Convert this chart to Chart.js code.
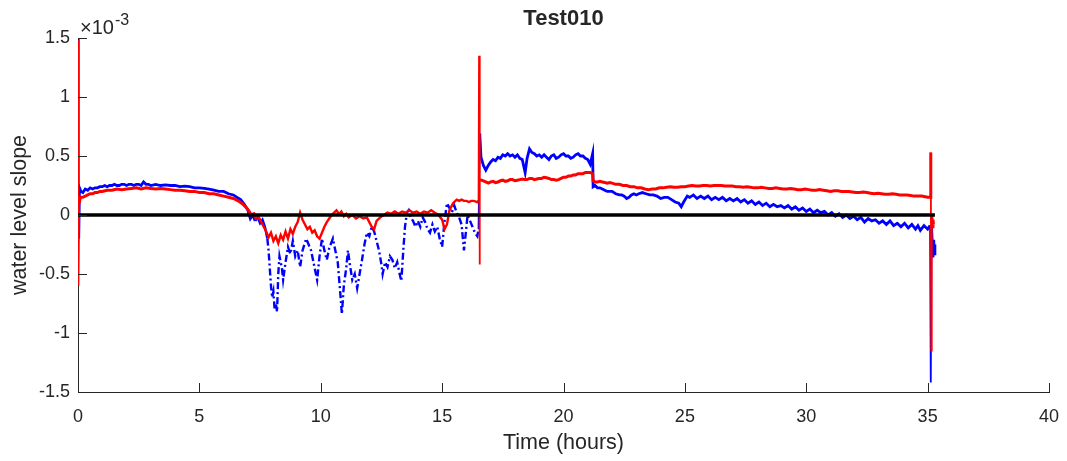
<!DOCTYPE html>
<html>
<head>
<meta charset="utf-8">
<title>Test010</title>
<script src="https://cdn.jsdelivr.net/npm/chart.js@4/dist/chart.umd.min.js"></script>
<style>
  html, body { margin: 0; padding: 0; background: #fff; }
  #wrap { width: 1067px; height: 461px; position: relative; }
</style>
</head>
<body>
<div id="wrap"><canvas id="grafico"></canvas></div>
<script>
// slope values are in units of 10^-3, time in hours
const expoente = -3;
const xTicks = [0, 5, 10, 15, 20, 25, 30, 35, 40];
const yTicks = [-1.5, -1, -0.5, 0, 0.5, 1, 1.5];

// zero reference line
const linhaZero = [[0, 0], [35.3, 0]];

// sensor 1 (blue)
const serieAzul = [
  [0, 1.5], [0.03, -0.2], [0.06, 0.23], [0.12, 0.2], [0.2, 0.19], [0.3, 0.22], [0.4, 0.21], [0.5, 0.23],
  [0.6, 0.22], [0.7, 0.23], [0.8, 0.23], [0.9, 0.24], [1.0, 0.24], [1.1, 0.25], [1.2, 0.24], [1.3, 0.25],
  [1.4, 0.25], [1.5, 0.26], [1.6, 0.25], [1.7, 0.25], [1.8, 0.26], [1.9, 0.26], [2.0, 0.25], [2.1, 0.26],
  [2.2, 0.26], [2.3, 0.25], [2.4, 0.26], [2.5, 0.26], [2.6, 0.25], [2.7, 0.28], [2.8, 0.26], [2.9, 0.26],
  [3.0, 0.25], [3.2, 0.26], [3.4, 0.25], [3.6, 0.255], [3.8, 0.25], [4.0, 0.25], [4.2, 0.24], [4.4, 0.245],
  [4.6, 0.24], [4.8, 0.23], [5.0, 0.23], [5.2, 0.225], [5.4, 0.22], [5.6, 0.21], [5.8, 0.2], [6.0, 0.2],
  [6.2, 0.18], [6.4, 0.17], [6.55, 0.15], [6.7, 0.13], [6.85, 0.09], [7.0, 0.04], [7.1, -0.03], [7.2, 0.0],
  [7.3, -0.05], [7.4, -0.02], [7.5, -0.07], [7.6, -0.04], [7.7, -0.1], [7.8, -0.2], [7.85, -0.3], [7.9, -0.45],
  [7.95, -0.6], [8.0, -0.7], [8.05, -0.65], [8.1, -0.8], [8.15, -0.75], [8.2, -0.82], [8.25, -0.5], [8.3, -0.35],
  [8.4, -0.45], [8.45, -0.55], [8.55, -0.4], [8.65, -0.27], [8.75, -0.33], [8.85, -0.22], [8.95, -0.35], [9.05, -0.3],
  [9.15, -0.44], [9.25, -0.3], [9.4, -0.2], [9.5, -0.25], [9.6, -0.3], [9.7, -0.4], [9.85, -0.55], [9.95, -0.35],
  [10.05, -0.2], [10.15, -0.3], [10.25, -0.38], [10.35, -0.28], [10.5, -0.2], [10.6, -0.3], [10.7, -0.4], [10.8, -0.65],
  [10.87, -0.84], [10.95, -0.6], [11.05, -0.45], [11.12, -0.3], [11.2, -0.42], [11.3, -0.55], [11.4, -0.5], [11.5, -0.62],
  [11.6, -0.5], [11.7, -0.38], [11.8, -0.25], [11.9, -0.15], [12.0, -0.18], [12.1, -0.1], [12.2, -0.14], [12.3, -0.22],
  [12.4, -0.3], [12.5, -0.42], [12.55, -0.5], [12.65, -0.4], [12.75, -0.44], [12.85, -0.35], [12.95, -0.38], [13.05, -0.45],
  [13.15, -0.4], [13.25, -0.5], [13.32, -0.56], [13.4, -0.3], [13.47, -0.1], [13.55, 0.02], [13.62, 0.04], [13.7, -0.02],
  [13.8, -0.05], [13.9, -0.1], [14.0, -0.05], [14.1, -0.1], [14.2, -0.02], [14.3, -0.06], [14.4, -0.12], [14.5, -0.15],
  [14.6, -0.08], [14.7, -0.14], [14.8, -0.1], [14.9, -0.2], [15.0, -0.27], [15.1, -0.05], [15.2, 0.1], [15.3, 0.06],
  [15.4, 0.02], [15.5, 0.08], [15.6, 0.02], [15.7, -0.02], [15.8, -0.08], [15.9, -0.3], [15.95, -0.2], [16.05, 0.0],
  [16.15, -0.05], [16.25, -0.1], [16.35, -0.15], [16.45, -0.18], [16.5, -0.12],
  [16.55, 0.69], [16.6, 0.49], [16.7, 0.42], [16.8, 0.38], [16.9, 0.42], [17.0, 0.45], [17.1, 0.47], [17.2, 0.46],
  [17.3, 0.49], [17.4, 0.48], [17.5, 0.51], [17.6, 0.5], [17.7, 0.52], [17.8, 0.5], [17.9, 0.51], [18.0, 0.49],
  [18.1, 0.51], [18.2, 0.48], [18.3, 0.47], [18.42, 0.36], [18.5, 0.48], [18.6, 0.56], [18.7, 0.53], [18.8, 0.52],
  [18.9, 0.5], [19.0, 0.51], [19.1, 0.49], [19.2, 0.51], [19.3, 0.49], [19.4, 0.47], [19.5, 0.5], [19.6, 0.51],
  [19.7, 0.48], [19.8, 0.49], [19.9, 0.51], [20.0, 0.52], [20.1, 0.5], [20.2, 0.5], [20.3, 0.48], [20.4, 0.49],
  [20.5, 0.51], [20.6, 0.52], [20.7, 0.5], [20.8, 0.5], [20.9, 0.48], [21.0, 0.47], [21.1, 0.43], [21.2, 0.52],
  [21.22, 0.24], [21.3, 0.25], [21.4, 0.23], [21.5, 0.23], [21.6, 0.22], [21.7, 0.21], [21.8, 0.2], [21.9, 0.2],
  [22.0, 0.2], [22.15, 0.18], [22.3, 0.17], [22.4, 0.17], [22.5, 0.16], [22.6, 0.14], [22.7, 0.15], [22.8, 0.17],
  [22.9, 0.18], [23.0, 0.17], [23.1, 0.18], [23.25, 0.19], [23.4, 0.18], [23.55, 0.17], [23.7, 0.17], [23.85, 0.16],
  [24.0, 0.14], [24.15, 0.15], [24.3, 0.15], [24.45, 0.13], [24.6, 0.11], [24.75, 0.1], [24.85, 0.07], [24.95, 0.11],
  [25.1, 0.16], [25.2, 0.15], [25.35, 0.17], [25.5, 0.14], [25.65, 0.16], [25.8, 0.14], [25.95, 0.16], [26.1, 0.13],
  [26.25, 0.15], [26.4, 0.13], [26.55, 0.15], [26.7, 0.12], [26.85, 0.14], [27.0, 0.12], [27.15, 0.14], [27.3, 0.11],
  [27.45, 0.13], [27.6, 0.1], [27.75, 0.12], [27.9, 0.09], [28.05, 0.11], [28.2, 0.08], [28.35, 0.1], [28.5, 0.07],
  [28.65, 0.09], [28.8, 0.07], [28.95, 0.08], [29.1, 0.06], [29.25, 0.08], [29.4, 0.05], [29.55, 0.07], [29.7, 0.04],
  [29.85, 0.06], [30.0, 0.03], [30.15, 0.05], [30.3, 0.02], [30.45, 0.04], [30.6, 0.02], [30.75, 0.03], [30.9, 0.0],
  [31.05, 0.02], [31.2, -0.01], [31.35, 0.01], [31.5, -0.02], [31.65, 0.0], [31.8, -0.03], [31.95, -0.01], [32.1, -0.04],
  [32.25, -0.02], [32.4, -0.06], [32.55, -0.03], [32.7, -0.05], [32.85, -0.04], [33.0, -0.07], [33.15, -0.05], [33.3, -0.08],
  [33.45, -0.05], [33.6, -0.09], [33.75, -0.07], [33.9, -0.1], [34.05, -0.07], [34.2, -0.11], [34.35, -0.08], [34.5, -0.12],
  [34.6, -0.09], [34.7, -0.13], [34.85, -0.09], [35.0, -0.12], [35.1, -0.09],
  [35.13, -1.42], [35.16, -0.1], [35.22, -0.36], [35.25, -0.21], [35.28, -0.33], [35.3, -0.25]
];

// sensor 2 (red)
const serieVermelha = [
  [0, 1.48], [0.02, -0.6], [0.05, 0.1], [0.1, 0.15], [0.2, 0.15], [0.3, 0.16], [0.4, 0.17], [0.5, 0.18],
  [0.6, 0.18], [0.7, 0.19], [0.8, 0.19], [0.9, 0.2], [1.0, 0.2], [1.2, 0.21], [1.4, 0.21], [1.6, 0.22],
  [1.8, 0.215], [2.0, 0.22], [2.2, 0.225], [2.4, 0.23], [2.6, 0.22], [2.8, 0.23], [3.0, 0.225], [3.2, 0.22],
  [3.4, 0.225], [3.6, 0.22], [3.8, 0.215], [4.0, 0.21], [4.2, 0.21], [4.4, 0.205], [4.6, 0.2], [4.8, 0.2],
  [5.0, 0.19], [5.2, 0.19], [5.4, 0.18], [5.6, 0.18], [5.8, 0.17], [6.0, 0.16], [6.2, 0.15], [6.4, 0.14],
  [6.6, 0.12], [6.8, 0.09], [6.95, 0.06], [7.05, 0.03], [7.15, 0.0], [7.25, 0.01],
  [7.35, -0.04], [7.45, -0.02], [7.55, -0.06], [7.65, -0.1], [7.75, -0.14], [7.85, -0.19], [7.95, -0.15], [8.05, -0.22],
  [8.15, -0.18], [8.25, -0.24], [8.35, -0.17], [8.45, -0.21], [8.55, -0.14], [8.65, -0.2], [8.75, -0.12], [8.85, -0.16],
  [8.95, -0.1], [9.05, -0.06], [9.15, 0.02], [9.25, -0.04], [9.35, -0.08], [9.45, -0.12], [9.55, -0.1], [9.65, -0.15],
  [9.75, -0.13], [9.85, -0.18], [9.95, -0.2], [10.05, -0.15], [10.15, -0.1], [10.25, -0.06], [10.35, -0.03], [10.45, 0.0],
  [10.55, 0.02], [10.65, 0.04], [10.75, 0.01], [10.85, 0.03], [10.95, -0.01], [11.05, 0.01], [11.15, -0.02], [11.3, 0.0],
  [11.45, -0.03], [11.6, -0.01], [11.75, -0.03], [11.9, -0.02], [12.0, -0.06], [12.1, -0.1], [12.2, -0.12], [12.3, -0.05],
  [12.45, -0.02], [12.6, 0.0], [12.75, 0.02], [12.9, 0.01], [13.05, 0.03], [13.2, 0.01], [13.35, 0.03], [13.5, 0.02],
  [13.65, 0.04], [13.8, 0.02], [13.95, 0.03], [14.1, 0.01], [14.25, 0.03], [14.4, 0.02], [14.55, 0.04], [14.7, 0.02],
  [14.85, 0.0], [15.0, -0.04], [15.1, -0.12], [15.2, -0.08], [15.3, 0.04], [15.45, 0.1], [15.6, 0.13], [15.7, 0.12],
  [15.8, 0.13], [15.9, 0.12], [16.0, 0.12], [16.1, 0.11], [16.2, 0.12], [16.3, 0.12], [16.45, 0.11], [16.5, 0.12],
  [16.52, 1.35], [16.54, -0.42], [16.56, 0.3], [16.7, 0.29], [16.8, 0.28], [16.9, 0.27], [17.0, 0.28], [17.1, 0.285],
  [17.2, 0.275], [17.3, 0.28], [17.4, 0.29], [17.5, 0.295], [17.6, 0.285], [17.7, 0.29], [17.8, 0.3], [17.9, 0.3],
  [18.0, 0.29], [18.1, 0.295], [18.2, 0.3], [18.3, 0.305], [18.4, 0.3], [18.5, 0.3], [18.6, 0.31], [18.7, 0.31],
  [18.8, 0.3], [18.9, 0.305], [19.0, 0.31], [19.1, 0.31], [19.2, 0.32], [19.3, 0.315], [19.4, 0.31], [19.5, 0.3],
  [19.6, 0.3], [19.7, 0.295], [19.8, 0.3], [19.9, 0.31], [20.0, 0.32], [20.1, 0.32], [20.2, 0.33], [20.3, 0.33],
  [20.4, 0.34], [20.5, 0.34], [20.6, 0.35], [20.7, 0.35], [20.8, 0.35], [20.9, 0.36], [21.0, 0.36], [21.1, 0.36],
  [21.2, 0.35], [21.22, 0.29], [21.3, 0.28], [21.4, 0.28], [21.5, 0.285], [21.6, 0.28], [21.7, 0.275], [21.8, 0.27],
  [21.9, 0.275], [22.0, 0.27], [22.15, 0.26], [22.3, 0.26], [22.45, 0.25], [22.6, 0.25], [22.75, 0.24], [22.9, 0.24],
  [23.05, 0.23], [23.2, 0.23], [23.35, 0.22], [23.5, 0.215], [23.65, 0.22], [23.8, 0.22], [23.95, 0.23], [24.1, 0.23],
  [24.25, 0.235], [24.4, 0.24], [24.55, 0.235], [24.7, 0.235], [24.85, 0.24], [25.0, 0.24], [25.15, 0.245], [25.3, 0.25],
  [25.45, 0.245], [25.6, 0.245], [25.75, 0.25], [25.9, 0.25], [26.05, 0.245], [26.2, 0.25], [26.35, 0.25], [26.5, 0.25],
  [26.65, 0.245], [26.8, 0.245], [26.95, 0.245], [27.1, 0.24], [27.25, 0.24], [27.4, 0.235], [27.55, 0.24], [27.7, 0.235],
  [27.85, 0.23], [28.0, 0.23], [28.15, 0.235], [28.3, 0.23], [28.45, 0.225], [28.6, 0.225], [28.75, 0.23], [28.9, 0.225],
  [29.05, 0.22], [29.2, 0.22], [29.35, 0.225], [29.5, 0.22], [29.65, 0.215], [29.8, 0.215], [29.95, 0.22], [30.1, 0.215],
  [30.25, 0.21], [30.4, 0.21], [30.55, 0.215], [30.7, 0.21], [30.85, 0.205], [31.0, 0.2], [31.15, 0.205], [31.3, 0.205],
  [31.45, 0.2], [31.6, 0.2], [31.75, 0.2], [31.9, 0.195], [32.05, 0.19], [32.2, 0.19], [32.35, 0.195], [32.5, 0.19],
  [32.65, 0.185], [32.8, 0.18], [32.95, 0.185], [33.1, 0.18], [33.25, 0.175], [33.4, 0.175], [33.55, 0.18], [33.7, 0.175],
  [33.85, 0.17], [34.0, 0.17], [34.15, 0.17], [34.3, 0.165], [34.45, 0.16], [34.6, 0.16], [34.75, 0.16], [34.9, 0.155],
  [35.0, 0.15], [35.1, 0.15], [35.13, 0.53], [35.15, -1.15], [35.17, 0.0], [35.2, -0.1], [35.22, -0.04], [35.24, -0.08]
];

const fonte = '"Liberation Sans", Arial, Helvetica, sans-serif';
const corTexto = '#262626';

function pontos(serie) {
  return serie.map(p => ({ x: p[0], y: p[1] }));
}

// the noisy middle stretch and the spikes are drawn thinner
function larguraTrecho(c) {
  if (Math.abs(c.p1.parsed.y - c.p0.parsed.y) > 0.5) return 1.8;
  if (c.p0.parsed.x >= 7.3 && c.p1.parsed.x <= 16.5) return 2.4;
  return undefined;
}

// matlab style: ticks pointing into the axes, labels and title drawn by hand
const eixosMatlab = {
  id: 'eixosMatlab',
  afterDraw(chart) {
    const ctx = chart.ctx;
    const area = chart.chartArea;
    const sx = chart.scales.x;
    const sy = chart.scales.y;
    ctx.save();
    ctx.strokeStyle = corTexto;
    ctx.lineWidth = 1;
    ctx.beginPath();
    xTicks.forEach(t => {
      const px = Math.round(sx.getPixelForValue(t)) + 0.5;
      ctx.moveTo(px, area.bottom);
      ctx.lineTo(px, area.bottom - 9);
    });
    yTicks.forEach(t => {
      const py = Math.round(sy.getPixelForValue(t)) + 0.5;
      ctx.moveTo(area.left, py);
      ctx.lineTo(area.left + 9, py);
    });
    ctx.stroke();

    ctx.fillStyle = corTexto;
    const meio = (area.left + area.right) / 2;
    // title
    ctx.font = 'bold 22px ' + fonte;
    ctx.textAlign = 'center';
    ctx.textBaseline = 'middle';
    ctx.fillText('Test010', meio, 19);
    // x label
    ctx.font = '21.5px ' + fonte;
    ctx.fillText('Time (hours)', meio, 443);
    // y label
    ctx.save();
    ctx.translate(20, (area.top + area.bottom) / 2);
    ctx.rotate(-Math.PI / 2);
    ctx.fillText('water level slope', 0, 0);
    ctx.restore();
    // exponent
    ctx.textAlign = 'left';
    ctx.textBaseline = 'alphabetic';
    ctx.font = '20px ' + fonte;
    ctx.fillText('\u00d710', area.left + 2, 34);
    const w = ctx.measureText('\u00d710').width;
    ctx.font = '16px ' + fonte;
    ctx.fillText(String(expoente), area.left + 2 + w + 1, 25);
    ctx.restore();
  }
};

new Chart(document.getElementById('grafico'), {
  type: 'line',
  data: {
    datasets: [
      {
        label: 'zero',
        data: pontos(linhaZero),
        borderColor: '#000000',
        borderWidth: 3.5,
        pointRadius: 0
      },
      {
        label: 'sensor 2',
        data: pontos(serieVermelha),
        borderColor: '#ff0000',
        borderWidth: 3,
        pointRadius: 0,
        segment: { borderWidth: larguraTrecho }
      },
      {
        label: 'sensor 1',
        data: pontos(serieAzul),
        borderColor: '#0000ff',
        borderWidth: 2.8,
        pointRadius: 0,
        segment: {
          // broken trace through the noisy stretch
          borderDash: c => (c.p0.parsed.x >= 7.8 && c.p1.parsed.x <= 16.5) ? [7, 3, 2, 3] : undefined,
          borderWidth: larguraTrecho
        }
      }
    ]
  },
  options: {
    responsive: true,
    maintainAspectRatio: false,
    animation: false,
    devicePixelRatio: 1,
    layout: { padding: { top: 38, right: 18, left: 0, bottom: 0 } },
    plugins: {
      legend: { display: false },
      title: { display: false },
      tooltip: { enabled: false }
    },
    elements: { line: { tension: 0 } },
    scales: {
      x: {
        type: 'linear',
        min: 0,
        max: 40,
        afterFit: s => { s.height = 69; s.paddingLeft = 0; s.paddingRight = 0; },
        afterBuildTicks: s => { s.ticks = xTicks.map(v => ({ value: v })); },
        ticks: {
          color: corTexto,
          font: { family: fonte, size: 18 },
          padding: 14,
          maxRotation: 0,
          callback: v => String(v)
        },
        grid: { display: true, drawOnChartArea: false, drawTicks: false },
        border: { display: true, color: corTexto, width: 1 }
      },
      y: {
        type: 'linear',
        min: -1.5,
        max: 1.5,
        afterFit: s => { s.width = 78; s.paddingTop = 0; s.paddingBottom = 0; },
        afterBuildTicks: s => { s.ticks = yTicks.map(v => ({ value: v })); },
        ticks: {
          color: corTexto,
          font: { family: fonte, size: 18 },
          padding: 8,
          callback: v => String(v)
        },
        grid: { display: true, drawOnChartArea: false, drawTicks: false },
        border: { display: true, color: corTexto, width: 1 }
      }
    }
  },
  plugins: [eixosMatlab]
});
</script>
</body>
</html>
